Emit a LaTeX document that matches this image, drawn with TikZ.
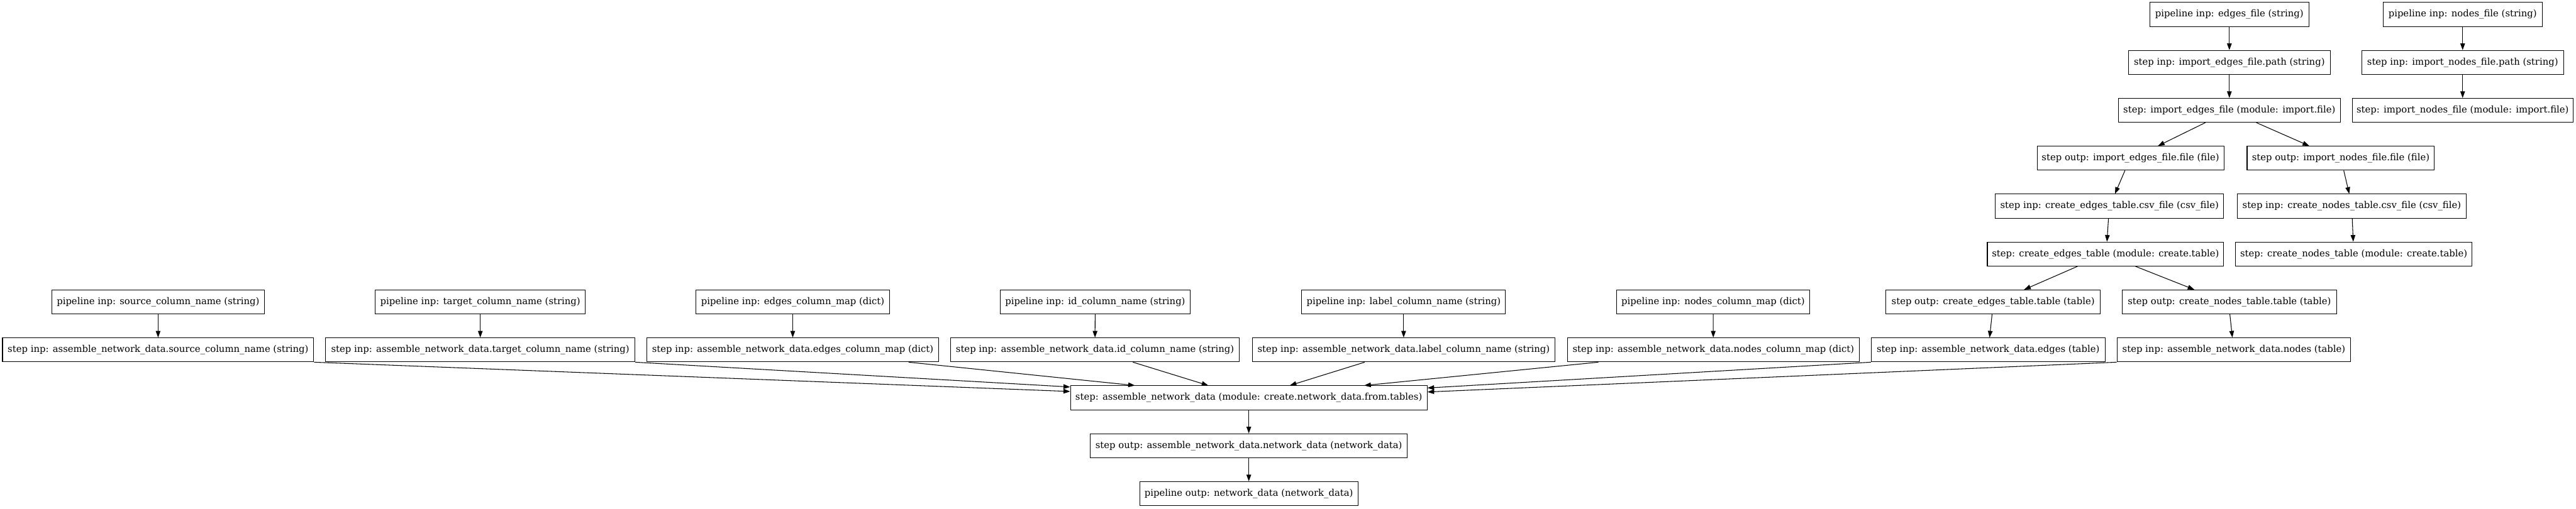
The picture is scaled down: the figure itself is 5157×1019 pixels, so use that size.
\documentclass[tikz,border=0pt]{standalone}
\usepackage{fontspec}
\setmainfont{DejaVu Serif}
\usetikzlibrary{arrows.meta,calc}
\begin{document}
\begin{tikzpicture}[x=0.75pt,y=-0.75pt,
  box/.style={draw, line width=1pt, rectangle, minimum height=36pt, inner xsep=3pt, inner ysep=0pt, font=\fontsize{14}{16}\selectfont, text=black},
  wd/.style={minimum width=#1*0.75pt},
  arr/.style={-{Triangle[length=10pt,width=7pt]}, line width=1pt}]
\useasboundingbox (0,0) rectangle (5157,1019);
% row 0-5 (right columns)
\node[box,wd=318] (pef) at (4463,29) {pipeline inp: edges\_file (string)};
\node[box,wd=318] (pnf) at (4930,29) {pipeline inp: nodes\_file (string)};
\node[box,wd=404] (iefp) at (4463,125) {step inp: import\_edges\_file.path (string)};
\node[box,wd=404] (infp) at (4930,125) {step inp: import\_nodes\_file.path (string)};
\node[box,wd=444] (ief) at (4463,221) {step: import\_edges\_file (module: import.file)};
\node[box,wd=442] (inf) at (4930,221) {step: import\_nodes\_file (module: import.file)};
\node[box,wd=374] (iefo) at (4265,317) {step outp: import\_edges\_file.file (file)};
\node[box,wd=375] (info) at (4686,317) {step outp: import\_nodes\_file.file (file)};
\node[box,wd=457] (cetc) at (4223,413) {step inp: create\_edges\_table.csv\_file (csv\_file)};
\node[box,wd=458] (cntc) at (4708,413) {step inp: create\_nodes\_table.csv\_file (csv\_file)};
\node[box,wd=473] (cet) at (4215,509) {step: create\_edges\_table (module: create.table)};
\node[box,wd=474] (cnt) at (4712,509) {step: create\_nodes\_table (module: create.table)};
% row 6
\node[box,wd=425] (psrc) at (316.5,605) {pipeline inp: source\_column\_name (string)};
\node[box,wd=421] (ptgt) at (961.5,605) {pipeline inp: target\_column\_name (string)};
\node[box,wd=387] (pecm) at (1587,605) {pipeline inp: edges\_column\_map (dict)};
\node[box,wd=381] (pid) at (2192.5,605) {pipeline inp: id\_column\_name (string)};
\node[box,wd=408] (plbl) at (2810,605) {pipeline inp: label\_column\_name (string)};
\node[box,wd=387] (pncm) at (3429.5,605) {pipeline inp: nodes\_column\_map (dict)};
\node[box,wd=429] (ceto) at (3990,605) {step outp: create\_edges\_table.table (table)};
\node[box,wd=429] (cnto) at (4463,605) {step outp: create\_nodes\_table.table (table)};
% row 7
\node[box,wd=623] (asrc) at (316.5,701) {step inp: assemble\_network\_data.source\_column\_name (string)};
\node[box,wd=619] (atgt) at (961.5,701) {step inp: assemble\_network\_data.target\_column\_name (string)};
\node[box,wd=585] (aecm) at (1587,701) {step inp: assemble\_network\_data.edges\_column\_map (dict)};
\node[box,wd=578] (aid) at (2192,701) {step inp: assemble\_network\_data.id\_column\_name (string)};
\node[box,wd=606] (albl) at (2810,701) {step inp: assemble\_network\_data.label\_column\_name (string)};
\node[box,wd=584] (ancm) at (3430,701) {step inp: assemble\_network\_data.nodes\_column\_map (dict)};
\node[box,wd=468] (aedg) at (3980,701) {step inp: assemble\_network\_data.edges (table)};
\node[box,wd=468] (andd) at (4472,701) {step inp: assemble\_network\_data.nodes (table)};
% rows 8-10
\node[box,wd=714] (asm) at (2500,797) {step: assemble\_network\_data (module: create.network\_data.from.tables)};
\node[box,wd=635] (aout) at (2500,893) {step outp: assemble\_network\_data.network\_data (network\_data)};
\node[box,wd=437] (pout) at (2500,989) {pipeline outp: network\_data (network\_data)};
% edges
\draw[arr] (pef) -- (iefp);
\draw[arr] (pnf) -- (infp);
\draw[arr] (iefp) -- (ief);
\draw[arr] (infp) -- (inf);
\draw[arr] ($(ief.south)+(-48,0)$) -- ($(iefo.north)+(55,0)$);
\draw[arr] ($(ief.south)+(54,0)$) -- ($(info.north)+(-63,0)$);
\draw[arr] ($(iefo.south)+(-11,0)$) -- ($(cetc.north)+(11,0)$);
\draw[arr] ($(info.south)+(6,0)$) -- ($(cntc.north)+(-5,0)$);
\draw[arr] ($(cetc.south)+(-2,0)$) -- ($(cet.north)+(3,0)$);
\draw[arr] ($(cntc.south)+(1,0)$) -- ($(cnt.north)+(-1,0)$);
\draw[arr] ($(cet.south)+(-56,0)$) -- ($(ceto.north)+(62,0)$);
\draw[arr] ($(cet.south)+(60,0)$) -- ($(cnto.north)+(-70,0)$);
\draw[arr] ($(ceto.south)+(-2,0)$) -- ($(aedg.north)+(3,0)$);
\draw[arr] ($(cnto.south)+(1,0)$) -- ($(andd.north)+(-3,0)$);
\draw[arr] (psrc) -- (asrc);
\draw[arr] (ptgt) -- (atgt);
\draw[arr] (pecm) -- (aecm);
\draw[arr] (pid) -- (aid);
\draw[arr] (plbl) -- (albl);
\draw[arr] (pncm) -- (ancm);
\draw[arr] (asrc.south east) -- ($(asm.north west)+(0,12)$);
\draw[arr] (atgt.south east) -- ($(asm.north west)+(0,3)$);
\draw[arr] ($(aecm.south)+(232,0)$) -- ($(asm.north)+(-228,0)$);
\draw[arr] ($(aid.south)+(76,0)$) -- ($(asm.north)+(-81,0)$);
\draw[arr] ($(albl.south)+(-78,0)$) -- ($(asm.north)+(82,0)$);
\draw[arr] ($(ancm.south)+(-230,0)$) -- ($(asm.north)+(231,0)$);
\draw[arr] (aedg.south west) -- ($(asm.north east)+(0,5)$);
\draw[arr] (andd.south west) -- ($(asm.north east)+(0,13)$);
\draw[arr] (asm) -- (aout);
\draw[arr] (aout) -- (pout);
\end{tikzpicture}
\end{document}
